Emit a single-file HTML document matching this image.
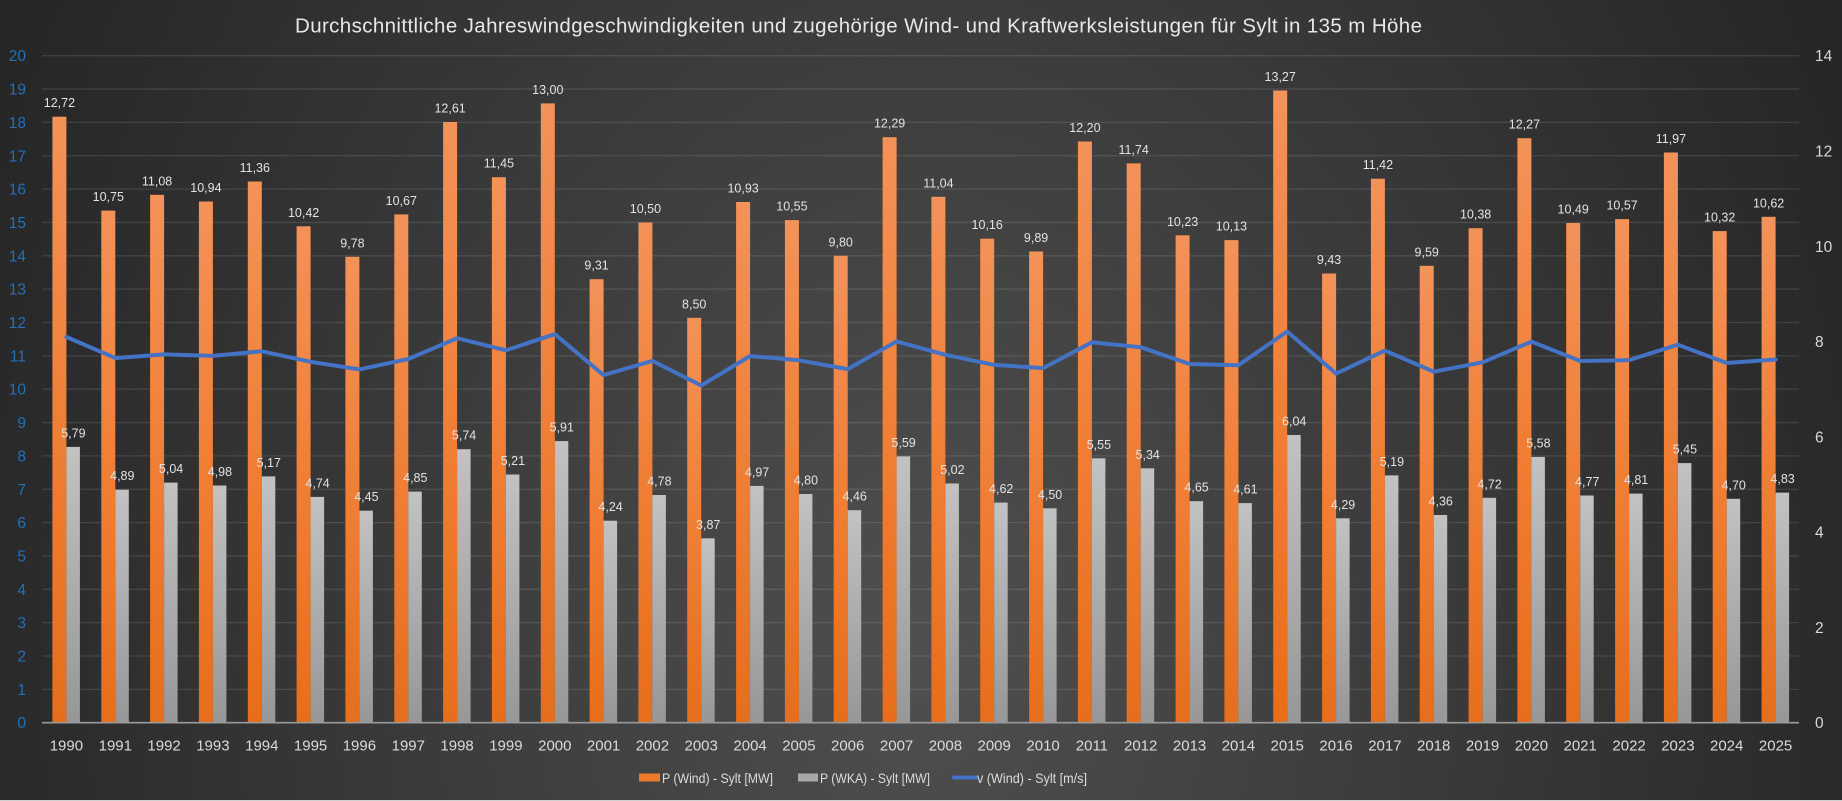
<!DOCTYPE html>
<html><head><meta charset="utf-8"><style>
html,body{margin:0;padding:0;background:#262626;overflow:hidden;}
svg{display:block;}
text{font-family:"Liberation Sans",sans-serif;}
.dl{font-size:12.5px;fill:#e2e2e2;text-anchor:middle;}
.yr{font-size:15px;fill:#dadada;text-anchor:middle;}
.la{font-size:15.5px;fill:#2170b8;text-anchor:end;}
.ra{font-size:15.5px;fill:#d8d8d8;text-anchor:start;}
.lg{font-size:14px;fill:#dcdcdc;}
</style></head><body>
<svg width="1842" height="801" viewBox="0 0 1842 801" xmlns="http://www.w3.org/2000/svg">
<defs>
<radialGradient id="bg" gradientUnits="userSpaceOnUse" cx="921" cy="650" r="1013" gradientTransform="translate(921,650) scale(1,1.362) translate(-921,-650)">
<stop offset="0" stop-color="#4f4f4f"/><stop offset="1" stop-color="#262626"/>
</radialGradient>
<linearGradient id="og" x1="0" y1="0" x2="0" y2="1">
<stop offset="0" stop-color="#f39259"/><stop offset="0.5" stop-color="#f07f36"/><stop offset="1" stop-color="#e66e1b"/>
</linearGradient>
<linearGradient id="gg" x1="0" y1="0" x2="0" y2="1">
<stop offset="0" stop-color="#c2c2c2"/><stop offset="1" stop-color="#979797"/>
</linearGradient>
</defs>
<rect x="0" y="0" width="1842" height="801" fill="url(#bg)"/>
<rect x="0" y="800" width="1842" height="1" fill="#cfcfcf"/>

<text x="295" y="32.3" font-size="20.5" fill="#e8e8e8" textLength="1127" lengthAdjust="spacing">Durchschnittliche Jahreswindgeschwindigkeiten und zugehörige Wind- und Kraftwerksleistungen für Sylt in 135 m Höhe</text>

<g stroke="rgba(255,255,255,0.11)" stroke-width="1.3">
<line x1="42" x2="1799" y1="689.35" y2="689.35"/><line x1="42" x2="1799" y1="656.0" y2="656.0"/>
<line x1="42" x2="1799" y1="622.65" y2="622.65"/><line x1="42" x2="1799" y1="589.3" y2="589.3"/>
<line x1="42" x2="1799" y1="555.95" y2="555.95"/><line x1="42" x2="1799" y1="522.6" y2="522.6"/>
<line x1="42" x2="1799" y1="489.25" y2="489.25"/><line x1="42" x2="1799" y1="455.9" y2="455.9"/>
<line x1="42" x2="1799" y1="422.55" y2="422.55"/><line x1="42" x2="1799" y1="389.2" y2="389.2"/>
<line x1="42" x2="1799" y1="355.85" y2="355.85"/><line x1="42" x2="1799" y1="322.5" y2="322.5"/>
<line x1="42" x2="1799" y1="289.15" y2="289.15"/><line x1="42" x2="1799" y1="255.8" y2="255.8"/>
<line x1="42" x2="1799" y1="222.45" y2="222.45"/><line x1="42" x2="1799" y1="189.1" y2="189.1"/>
<line x1="42" x2="1799" y1="155.75" y2="155.75"/><line x1="42" x2="1799" y1="122.4" y2="122.4"/>
<line x1="42" x2="1799" y1="89.05" y2="89.05"/><line x1="42" x2="1799" y1="55.7" y2="55.7"/>
</g>

<g>
<text class="la" x="26" y="728.2">0</text><text class="la" x="26" y="694.9">1</text>
<text class="la" x="26" y="661.5">2</text><text class="la" x="26" y="628.2">3</text>
<text class="la" x="26" y="594.8">4</text><text class="la" x="26" y="561.5">5</text>
<text class="la" x="26" y="528.1">6</text><text class="la" x="26" y="494.8">7</text>
<text class="la" x="26" y="461.4">8</text><text class="la" x="26" y="428.1">9</text>
<text class="la" x="26" y="394.7">10</text><text class="la" x="26" y="361.4">11</text>
<text class="la" x="26" y="328.0">12</text><text class="la" x="26" y="294.7">13</text>
<text class="la" x="26" y="261.3">14</text><text class="la" x="26" y="228.0">15</text>
<text class="la" x="26" y="194.6">16</text><text class="la" x="26" y="161.3">17</text>
<text class="la" x="26" y="127.9">18</text><text class="la" x="26" y="94.6">19</text>
<text class="la" x="26" y="61.2">20</text>
</g>
<g>
<text class="ra" x="1815" y="728.2">0</text><text class="ra" x="1815" y="632.9">2</text>
<text class="ra" x="1815" y="537.6">4</text><text class="ra" x="1815" y="442.3">6</text>
<text class="ra" x="1815" y="347.1">8</text><text class="ra" x="1815" y="251.8">10</text>
<text class="ra" x="1815" y="156.5">12</text><text class="ra" x="1815" y="61.2">14</text>
</g>

<g fill="url(#og)">
<rect x="52.4" y="116.7" width="14" height="606.0"/><rect x="101.3" y="210.6" width="14" height="512.1"/>
<rect x="150.1" y="194.8" width="14" height="527.9"/><rect x="198.9" y="201.5" width="14" height="521.2"/>
<rect x="247.8" y="181.5" width="14" height="541.2"/><rect x="296.6" y="226.3" width="14" height="496.4"/>
<rect x="345.4" y="256.8" width="14" height="465.9"/><rect x="394.3" y="214.4" width="14" height="508.3"/>
<rect x="443.1" y="122.0" width="14" height="600.7"/><rect x="491.9" y="177.2" width="14" height="545.5"/>
<rect x="540.8" y="103.4" width="14" height="619.3"/><rect x="589.6" y="279.2" width="14" height="443.5"/>
<rect x="638.4" y="222.5" width="14" height="500.2"/><rect x="687.2" y="317.8" width="14" height="404.9"/>
<rect x="736.1" y="202.0" width="14" height="520.7"/><rect x="784.9" y="220.1" width="14" height="502.6"/>
<rect x="833.7" y="255.8" width="14" height="466.9"/><rect x="882.6" y="137.2" width="14" height="585.5"/>
<rect x="931.4" y="196.8" width="14" height="525.9"/><rect x="980.2" y="238.7" width="14" height="484.0"/>
<rect x="1029.1" y="251.5" width="14" height="471.2"/><rect x="1077.9" y="141.5" width="14" height="581.2"/>
<rect x="1126.7" y="163.4" width="14" height="559.3"/><rect x="1175.6" y="235.3" width="14" height="487.4"/>
<rect x="1224.4" y="240.1" width="14" height="482.6"/><rect x="1273.2" y="90.5" width="14" height="632.2"/>
<rect x="1322.1" y="273.5" width="14" height="449.2"/><rect x="1370.9" y="178.7" width="14" height="544.0"/>
<rect x="1419.7" y="265.8" width="14" height="456.9"/><rect x="1468.6" y="228.2" width="14" height="494.5"/>
<rect x="1517.4" y="138.2" width="14" height="584.5"/><rect x="1566.2" y="223.0" width="14" height="499.7"/>
<rect x="1615.1" y="219.1" width="14" height="503.6"/><rect x="1663.9" y="152.5" width="14" height="570.2"/>
<rect x="1712.7" y="231.1" width="14" height="491.6"/><rect x="1761.6" y="216.8" width="14" height="505.9"/>
</g>
<g fill="url(#gg)">
<rect x="66.4" y="446.9" width="13.5" height="275.8"/><rect x="115.3" y="489.7" width="13.5" height="233.0"/>
<rect x="164.1" y="482.6" width="13.5" height="240.1"/><rect x="212.9" y="485.5" width="13.5" height="237.2"/>
<rect x="261.8" y="476.4" width="13.5" height="246.3"/><rect x="310.6" y="496.9" width="13.5" height="225.8"/>
<rect x="359.4" y="510.7" width="13.5" height="212.0"/><rect x="408.3" y="491.6" width="13.5" height="231.1"/>
<rect x="457.1" y="449.2" width="13.5" height="273.5"/><rect x="505.9" y="474.5" width="13.5" height="248.2"/>
<rect x="554.8" y="441.1" width="13.5" height="281.6"/><rect x="603.6" y="520.7" width="13.5" height="202.0"/>
<rect x="652.4" y="495.0" width="13.5" height="227.7"/><rect x="701.2" y="538.3" width="13.5" height="184.4"/>
<rect x="750.1" y="485.9" width="13.5" height="236.8"/><rect x="798.9" y="494.0" width="13.5" height="228.7"/>
<rect x="847.7" y="510.2" width="13.5" height="212.5"/><rect x="896.6" y="456.4" width="13.5" height="266.3"/>
<rect x="945.4" y="483.5" width="13.5" height="239.2"/><rect x="994.2" y="502.6" width="13.5" height="220.1"/>
<rect x="1043.1" y="508.3" width="13.5" height="214.4"/><rect x="1091.9" y="458.3" width="13.5" height="264.4"/>
<rect x="1140.7" y="468.3" width="13.5" height="254.4"/><rect x="1189.6" y="501.2" width="13.5" height="221.5"/>
<rect x="1238.4" y="503.1" width="13.5" height="219.6"/><rect x="1287.2" y="435.0" width="13.5" height="287.7"/>
<rect x="1336.1" y="518.3" width="13.5" height="204.4"/><rect x="1384.9" y="475.4" width="13.5" height="247.3"/>
<rect x="1433.7" y="515.0" width="13.5" height="207.7"/><rect x="1482.6" y="497.8" width="13.5" height="224.9"/>
<rect x="1531.4" y="456.9" width="13.5" height="265.8"/><rect x="1580.2" y="495.5" width="13.5" height="227.2"/>
<rect x="1629.1" y="493.6" width="13.5" height="229.1"/><rect x="1677.9" y="463.1" width="13.5" height="259.6"/>
<rect x="1726.7" y="498.8" width="13.5" height="223.9"/><rect x="1775.6" y="492.6" width="13.5" height="230.1"/>
</g>

<line x1="42" x2="1799" y1="722.7" y2="722.7" stroke="#9a9a9a" stroke-width="1.6"/>

<polyline fill="none" stroke="#4472c4" stroke-width="4" stroke-linejoin="round" stroke-linecap="round" points="66.4,337.0 115.3,358.1 164.1,354.4 212.9,355.9 261.8,351.3 310.6,361.8 359.4,369.4 408.3,359.0 457.1,338.2 505.9,350.3 554.8,334.2 603.6,375.1 652.4,360.9 701.2,385.5 750.1,356.0 798.9,360.3 847.7,369.1 896.6,341.4 945.4,354.8 994.2,364.9 1043.1,368.1 1091.9,342.3 1140.7,347.2 1189.6,364.0 1238.4,365.2 1287.2,331.5 1336.1,373.6 1384.9,350.6 1433.7,371.7 1482.6,362.3 1531.4,341.6 1580.2,361.0 1629.1,360.1 1677.9,344.7 1726.7,363.0 1775.6,359.5"/>

<g class="dl">
<text class="dl" x="59.4" y="107.2">12,72</text><text class="dl" x="108.3" y="201.1">10,75</text>
<text class="dl" x="157.1" y="185.3">11,08</text><text class="dl" x="205.9" y="192.0">10,94</text>
<text class="dl" x="254.8" y="172.0">11,36</text><text class="dl" x="303.6" y="216.8">10,42</text>
<text class="dl" x="352.4" y="247.3">9,78</text><text class="dl" x="401.3" y="204.9">10,67</text>
<text class="dl" x="450.1" y="112.5">12,61</text><text class="dl" x="498.9" y="167.7">11,45</text>
<text class="dl" x="547.8" y="93.9">13,00</text><text class="dl" x="596.6" y="269.7">9,31</text>
<text class="dl" x="645.4" y="213.0">10,50</text><text class="dl" x="694.2" y="308.3">8,50</text>
<text class="dl" x="743.1" y="192.5">10,93</text><text class="dl" x="791.9" y="210.6">10,55</text>
<text class="dl" x="840.7" y="246.3">9,80</text><text class="dl" x="889.6" y="127.7">12,29</text>
<text class="dl" x="938.4" y="187.3">11,04</text><text class="dl" x="987.2" y="229.2">10,16</text>
<text class="dl" x="1036.1" y="242.0">9,89</text><text class="dl" x="1084.9" y="132.0">12,20</text>
<text class="dl" x="1133.7" y="153.9">11,74</text><text class="dl" x="1182.6" y="225.8">10,23</text>
<text class="dl" x="1231.4" y="230.6">10,13</text><text class="dl" x="1280.2" y="81.0">13,27</text>
<text class="dl" x="1329.1" y="264.0">9,43</text><text class="dl" x="1377.9" y="169.2">11,42</text>
<text class="dl" x="1426.7" y="256.3">9,59</text><text class="dl" x="1475.6" y="218.7">10,38</text>
<text class="dl" x="1524.4" y="128.7">12,27</text><text class="dl" x="1573.2" y="213.5">10,49</text>
<text class="dl" x="1622.1" y="209.6">10,57</text><text class="dl" x="1670.9" y="143.0">11,97</text>
<text class="dl" x="1719.7" y="221.6">10,32</text><text class="dl" x="1768.6" y="207.3">10,62</text>

<text class="dl" x="73.4" y="437.4">5,79</text><text class="dl" x="122.3" y="480.2">4,89</text>
<text class="dl" x="171.1" y="473.1">5,04</text><text class="dl" x="219.9" y="476.0">4,98</text>
<text class="dl" x="268.8" y="466.9">5,17</text><text class="dl" x="317.6" y="487.4">4,74</text>
<text class="dl" x="366.4" y="501.2">4,45</text><text class="dl" x="415.3" y="482.1">4,85</text>
<text class="dl" x="464.1" y="439.7">5,74</text><text class="dl" x="512.9" y="465.0">5,21</text>
<text class="dl" x="561.8" y="431.6">5,91</text><text class="dl" x="610.6" y="511.2">4,24</text>
<text class="dl" x="659.4" y="485.5">4,78</text><text class="dl" x="708.2" y="528.8">3,87</text>
<text class="dl" x="757.1" y="476.4">4,97</text><text class="dl" x="805.9" y="484.5">4,80</text>
<text class="dl" x="854.7" y="500.7">4,46</text><text class="dl" x="903.6" y="446.9">5,59</text>
<text class="dl" x="952.4" y="474.0">5,02</text><text class="dl" x="1001.2" y="493.1">4,62</text>
<text class="dl" x="1050.1" y="498.8">4,50</text><text class="dl" x="1098.9" y="448.8">5,55</text>
<text class="dl" x="1147.7" y="458.8">5,34</text><text class="dl" x="1196.6" y="491.7">4,65</text>
<text class="dl" x="1245.4" y="493.6">4,61</text><text class="dl" x="1294.2" y="425.5">6,04</text>
<text class="dl" x="1343.1" y="508.8">4,29</text><text class="dl" x="1391.9" y="465.9">5,19</text>
<text class="dl" x="1440.7" y="505.5">4,36</text><text class="dl" x="1489.6" y="488.3">4,72</text>
<text class="dl" x="1538.4" y="447.4">5,58</text><text class="dl" x="1587.2" y="486.0">4,77</text>
<text class="dl" x="1636.1" y="484.1">4,81</text><text class="dl" x="1684.9" y="453.6">5,45</text>
<text class="dl" x="1733.7" y="489.3">4,70</text><text class="dl" x="1782.6" y="483.1">4,83</text>
</g>

<g>
<text class="yr" x="66.4" y="750.5">1990</text><text class="yr" x="115.3" y="750.5">1991</text>
<text class="yr" x="164.1" y="750.5">1992</text><text class="yr" x="212.9" y="750.5">1993</text>
<text class="yr" x="261.8" y="750.5">1994</text><text class="yr" x="310.6" y="750.5">1995</text>
<text class="yr" x="359.4" y="750.5">1996</text><text class="yr" x="408.3" y="750.5">1997</text>
<text class="yr" x="457.1" y="750.5">1998</text><text class="yr" x="505.9" y="750.5">1999</text>
<text class="yr" x="554.8" y="750.5">2000</text><text class="yr" x="603.6" y="750.5">2001</text>
<text class="yr" x="652.4" y="750.5">2002</text><text class="yr" x="701.2" y="750.5">2003</text>
<text class="yr" x="750.1" y="750.5">2004</text><text class="yr" x="798.9" y="750.5">2005</text>
<text class="yr" x="847.7" y="750.5">2006</text><text class="yr" x="896.6" y="750.5">2007</text>
<text class="yr" x="945.4" y="750.5">2008</text><text class="yr" x="994.2" y="750.5">2009</text>
<text class="yr" x="1043.1" y="750.5">2010</text><text class="yr" x="1091.9" y="750.5">2011</text>
<text class="yr" x="1140.7" y="750.5">2012</text><text class="yr" x="1189.6" y="750.5">2013</text>
<text class="yr" x="1238.4" y="750.5">2014</text><text class="yr" x="1287.2" y="750.5">2015</text>
<text class="yr" x="1336.1" y="750.5">2016</text><text class="yr" x="1384.9" y="750.5">2017</text>
<text class="yr" x="1433.7" y="750.5">2018</text><text class="yr" x="1482.6" y="750.5">2019</text>
<text class="yr" x="1531.4" y="750.5">2020</text><text class="yr" x="1580.2" y="750.5">2021</text>
<text class="yr" x="1629.1" y="750.5">2022</text><text class="yr" x="1677.9" y="750.5">2023</text>
<text class="yr" x="1726.7" y="750.5">2024</text><text class="yr" x="1775.6" y="750.5">2025</text>
</g>

<g>
<rect x="639" y="773.5" width="21" height="8" fill="#ee7a2c"/>
<text class="lg" x="662" y="783" textLength="111" lengthAdjust="spacingAndGlyphs">P (Wind) - Sylt [MW]</text>
<rect x="798" y="773.5" width="20" height="8" fill="#a8a8a8"/>
<text class="lg" x="820" y="783" textLength="110" lengthAdjust="spacingAndGlyphs">P (WKA) - Sylt [MW]</text>
<line x1="954" x2="976" y1="777.5" y2="777.5" stroke="#4472c4" stroke-width="4" stroke-linecap="round"/>
<text class="lg" x="977" y="783" textLength="110" lengthAdjust="spacingAndGlyphs">v (Wind) - Sylt [m/s]</text>
</g>
</svg>
</body></html>
